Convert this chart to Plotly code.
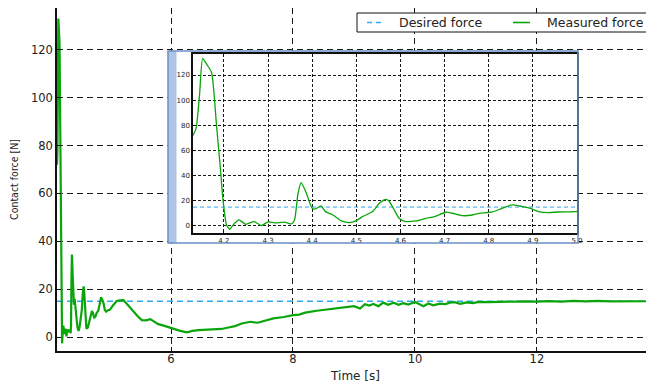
import plotly.graph_objects as go

# ---------------- data ----------------
time_s = [4.130, 4.137, 4.145, 4.152, 4.162, 4.172, 4.1835, 4.191, 4.198, 4.206,
          4.2135, 4.221, 4.234, 4.2497, 4.268, 4.285, 4.300, 4.315, 4.338, 4.353,
          4.360, 4.368, 4.375, 4.387, 4.400, 4.408, 4.420, 4.430, 4.447, 4.466,
          4.484, 4.500, 4.514, 4.537, 4.552, 4.567, 4.574, 4.586, 4.597, 4.612,
          4.635, 4.658, 4.677, 4.703, 4.718, 4.740, 4.763, 4.778, 4.808, 4.830,
          4.853, 4.876, 4.895, 4.913, 4.936, 4.958, 4.996,
          5.05, 5.11, 5.16, 5.22, 5.27, 5.32, 5.38, 5.45, 5.52, 5.59,
          5.66, 5.72, 5.79, 5.88, 5.98, 6.06, 6.15, 6.26, 6.35, 6.45,
          6.58, 6.72, 6.83, 6.94, 7.05, 7.16, 7.30, 7.42, 7.55, 7.68,
          7.85, 8.00, 8.10, 8.20, 8.39, 8.55, 8.77, 8.90, 9.00, 9.10,
          9.18, 9.25, 9.32, 9.40, 9.48, 9.56, 9.65, 9.73, 9.81, 9.89,
          10.00, 10.05, 10.14, 10.22, 10.30, 10.41, 10.50, 10.57, 10.65, 10.74,
          10.85, 10.95, 11.05, 11.20, 11.40, 11.60, 11.80, 12.00, 12.20, 12.40,
          12.60, 12.80, 13.00, 13.20, 13.40, 13.60, 13.80, 13.95]
measured_force = [72, 77.6, 105, 133, 128, 122, 79, 50, 20.7, 0.8,
                  -2.6, 0.8, 4.8, 1.3, 3.5, 0.3, 3.2, 2.4, 3.0, 1.6,
                  4.8, 26, 34.5, 26, 14, 13.5, 16, 11.4, 8.7, 4.0,
                  2.6, 4.2, 7.4, 11.4, 18, 21.2, 19.9, 12.7, 6.1, 3.5,
                  4.0, 6.1, 7.4, 10.9, 10.1, 8.2, 8.7, 10.0, 11.1, 14.0,
                  16.7, 15.4, 14.0, 11.4, 10.6, 11.1, 11.4,
                  13.3, 15.1, 15.3, 15.4, 14.0, 12.5, 10.6, 8.8, 7.1, 7.0,
                  7.5, 6.4, 5.4, 4.8, 4.0, 3.2, 2.6, 2.0, 2.6, 2.9,
                  3.0, 3.2, 3.4, 4.0, 4.6, 5.7, 6.4, 6.0, 6.8, 7.8,
                  8.4, 9.2, 9.4, 10.2, 11.0, 11.5, 12.2, 12.6, 12.9, 11.9,
                  13.7, 13.2, 13.8, 12.9, 14.4, 13.5, 14.4, 13.5, 14.2, 13.6,
                  14.7, 14.0, 12.9, 14.0, 13.3, 14.0, 13.8, 14.4, 14.6, 13.9,
                  14.5, 14.2, 14.7, 14.6, 14.8, 14.7, 14.9, 14.8, 15.0, 14.8,
                  15.1, 14.9, 15.1, 14.9, 15.0, 14.9, 15.0, 15.0]
desired_time = [4.13, 14.0]
desired_force = [15, 15]

main_xticks = [6, 8, 10, 12, 14]
force_ticks = [0, 20, 40, 60, 80, 100, 120]
inset_xticks = [4.2, 4.3, 4.4, 4.5, 4.6, 4.7, 4.8, 4.9, 5.0]
legend_labels = ["Desired force", "Measured force"]

GREEN = "#0aa50a"
BLUE = "#2fa8f2"
FONT = "DejaVu Sans"

# page pixels -> the html body has an 8px margin, compensate for it
OFF = 8
PAGE_W, PAGE_H = 654, 383
W, H = PAGE_W - OFF, PAGE_H - OFF
PL, PT, PR, PB = 57, 8, 654, 351          # plot area in page pixels
ML, MT = PL - OFF, PT - OFF
MR = W - (PR - OFF)
MB = H - (PB - OFF)
PW, PH = W - ML - MR, H - MT - MB


def px_x(p):
    return (p - OFF - ML) / PW


def px_y(p):
    return (H - MB - (p - OFF)) / PH


fig = go.Figure()

# main plot
fig.add_trace(go.Scatter(x=desired_time, y=desired_force, mode="lines",
                         name=legend_labels[0], showlegend=False,
                         line=dict(color=BLUE, width=1.5, dash="6px,4px")))
fig.add_trace(go.Scatter(x=time_s, y=measured_force, mode="lines",
                         name=legend_labels[1], showlegend=False,
                         line=dict(color=GREEN, width=2.2)))

# white box behind the inset (its own subplot so its background covers main)
fig.add_trace(go.Scatter(x=[], y=[], xaxis="x2", yaxis="y2", showlegend=False,
                         hoverinfo="skip"))

# inset
fig.add_trace(go.Scatter(x=desired_time, y=desired_force, mode="lines",
                         xaxis="x3", yaxis="y3", showlegend=False,
                         name=legend_labels[0],
                         line=dict(color=BLUE, width=1, dash="4px,3px")))
fig.add_trace(go.Scatter(x=time_s, y=measured_force, mode="lines",
                         xaxis="x3", yaxis="y3", showlegend=False,
                         name=legend_labels[1],
                         line=dict(color=GREEN, width=1.3, shape="spline",
                                   smoothing=0.6)))

grid_main = dict(showgrid=True, gridcolor="#1a1a1a", gridwidth=1,
                 griddash="6px,4px", zeroline=False, automargin=False)
grid_inset = dict(showgrid=True, gridcolor="#1a1a1a", gridwidth=1,
                  griddash="3px,2px", zeroline=False, automargin=False)

shapes = [
    # light blue strip at the left of the inset box
    dict(type="rect", xref="paper", yref="paper", layer="above",
         x0=px_x(168), x1=px_x(176.5), y0=px_y(243), y1=px_y(51),
         fillcolor="#aec4e4", line=dict(width=0)),
    # inset box border
    dict(type="rect", xref="paper", yref="paper", layer="above",
         x0=px_x(168), x1=px_x(578), y0=px_y(243), y1=px_y(51),
         fillcolor="rgba(0,0,0,0)", line=dict(color="#6a90c6", width=1.5)),
    # legend box
    dict(type="rect", xref="paper", yref="paper", layer="above",
         x0=px_x(357), x1=px_x(653.5), y0=px_y(32), y1=px_y(13),
         fillcolor="white", line=dict(color="#111111", width=1)),
    # legend samples
    dict(type="line", xref="paper", yref="paper", layer="above",
         x0=px_x(367), x1=px_x(383), y0=px_y(22.5), y1=px_y(22.5),
         line=dict(color=BLUE, width=1.5, dash="5px,4px")),
    dict(type="line", xref="paper", yref="paper", layer="above",
         x0=px_x(513), x1=px_x(530), y0=px_y(22.5), y1=px_y(22.5),
         line=dict(color=GREEN, width=1.6)),
]

annotations = [
    dict(text="14", xref="paper", yref="paper", x=px_x(659),
         y=px_y(352), xanchor="center", yanchor="top", showarrow=False,
         font=dict(size=11.5, color="#222222")),
    dict(text=legend_labels[0], xref="paper", yref="paper", x=px_x(397),
         y=px_y(22.5), xanchor="left", yanchor="middle", showarrow=False,
         font=dict(size=12.5, color="#222222")),
    dict(text=legend_labels[1], xref="paper", yref="paper", x=px_x(545),
         y=px_y(22.5), xanchor="left", yanchor="middle", showarrow=False,
         font=dict(size=12.5, color="#222222")),
]

fig.update_layout(
    width=W, height=H,
    margin=dict(l=ML, r=MR, t=MT, b=MB, pad=0, autoexpand=False),
    paper_bgcolor="white", plot_bgcolor="white",
    font=dict(family=FONT, size=11.5, color="#222222"),
    showlegend=False,
    xaxis=dict(domain=[0, 1], range=[4.13, 13.92], tickvals=main_xticks,
               ticks="inside", ticklen=4, tickcolor="#111111",
               showline=True, linecolor="#111111", linewidth=1.5,
               mirror="ticks", ticklabelstandoff=-4,
               title=dict(text="Time [s]", font=dict(size=12), standoff=7),
               **grid_main),
    yaxis=dict(domain=[0, 1], range=[-5.8, 137.4], tickvals=force_ticks,
               ticks="inside", ticklen=4, tickcolor="#111111",
               showline=True, linecolor="#111111", linewidth=1.5,
               title=dict(text="Contact force [N]",
                          font=dict(size=10.5, family="DejaVu Sans Condensed, DejaVu Sans"),
                          standoff=10),
               **grid_main),
    xaxis2=dict(domain=[px_x(168), px_x(578)], anchor="y2", range=[0, 1],
                visible=False, showgrid=False, zeroline=False),
    yaxis2=dict(domain=[px_y(243), px_y(51)], anchor="x2", range=[0, 1],
                visible=False, showgrid=False, zeroline=False),
    xaxis3=dict(domain=[px_x(193), px_x(577)], anchor="y3", range=[4.13, 5.0],
                tickvals=inset_xticks, tickformat=".1f",
                ticks="inside", ticklen=3, tickcolor="#111111",
                showline=True, linecolor="#111111", linewidth=1.5,
                mirror="ticks", tickfont=dict(size=7),
                **grid_inset),
    yaxis3=dict(domain=[px_y(233), px_y(54)], anchor="x3", range=[-5.6, 136.7],
                tickvals=force_ticks,
                ticks="inside", ticklen=3, tickcolor="#111111",
                showline=True, linecolor="#111111", linewidth=1.5,
                mirror="ticks", tickfont=dict(size=7),
                **grid_inset),
    shapes=shapes,
    annotations=annotations,
)

fig.write_html("out.html")
